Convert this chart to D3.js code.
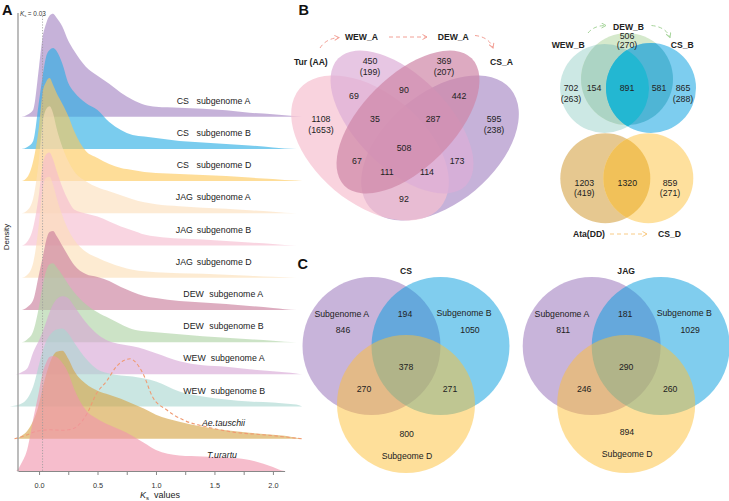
<!DOCTYPE html>
<html><head><meta charset="utf-8">
<script src="https://cdn.jsdelivr.net/npm/d3@7"></script>
<style>
html,body{margin:0;padding:0;background:#fff;}
svg{display:block;font-family:"Liberation Sans",Arial,Helvetica,sans-serif;}
</style></head><body>
<svg id="chart" width="729" height="501"></svg>
<script>
// ================= DATA =================
// Panel A : Ks density ridges (density at these Ks values)
const ksGrid = [-0.25,-0.2,-0.15,-0.1,-0.05,0,0.03,0.06,0.09,0.12,0.15,0.2,0.25,0.3,0.4,0.5,0.6,0.7,0.8,0.9,1.0,1.2,1.4,1.6,1.8,2.0,2.1,2.2,2.25];
const ridgeGroups = ["CS","CS","CS","JAG","JAG","JAG","DEW","DEW","WEW","WEW","Ae.tauschii","T.urartu"];
const ridgeSubs   = ["subgenome A","subgenome B","subgenome D","subgenome A","subgenome B","subgenome D","subgenome A","subgenome B","subgenome A","subgenome B","",""];
const csA  = [0,0,0,0.02,0.07,0.50,0.79,0.93,1.01,1.03,0.99,0.90,0.76,0.66,0.50,0.41,0.33,0.24,0.17,0.12,0.10,0.09,0.08,0.065,0.04,0.025,0.015,0.005,0];
const csB  = [0,0,0,0.02,0.08,0.48,0.72,0.92,0.99,1.01,0.98,0.85,0.66,0.57,0.46,0.39,0.27,0.19,0.14,0.125,0.11,0.08,0.065,0.05,0.035,0.015,0.005,0,0];
const csD  = [0,0,0,0.04,0.20,0.55,0.88,0.99,1.03,0.96,0.88,0.77,0.65,0.50,0.30,0.23,0.17,0.13,0.11,0.09,0.08,0.07,0.06,0.05,0.035,0.02,0.012,0.005,0];
const jagA = [0,0,0,0.03,0.15,0.55,0.90,1.04,1.07,1.00,0.85,0.66,0.52,0.42,0.32,0.26,0.22,0.18,0.14,0.11,0.09,0.07,0.055,0.045,0.03,0.015,0.005,0,0];
const jagB = [0,0,0,0.04,0.18,0.52,0.80,0.91,0.93,0.86,0.75,0.58,0.45,0.36,0.32,0.29,0.24,0.19,0.15,0.11,0.09,0.07,0.06,0.045,0.03,0.015,0.005,0,0];
const jagD = [0,0,0,0.03,0.15,0.55,0.88,1.00,1.01,0.93,0.80,0.62,0.48,0.38,0.26,0.20,0.15,0.11,0.08,0.065,0.055,0.045,0.04,0.03,0.02,0.01,0.005,0,0];
const dewA = [0,0,0,0.03,0.10,0.36,0.52,0.69,0.78,0.79,0.74,0.64,0.54,0.45,0.36,0.33,0.29,0.23,0.18,0.14,0.12,0.09,0.075,0.06,0.04,0.02,0.008,0,0];
const dewB = [0,0,0,0.03,0.11,0.36,0.56,0.71,0.78,0.79,0.75,0.67,0.58,0.50,0.38,0.30,0.24,0.18,0.13,0.11,0.10,0.08,0.06,0.045,0.03,0.015,0.005,0,0];
const wewA = [0,0,0.02,0.06,0.22,0.34,0.42,0.52,0.62,0.70,0.75,0.78,0.76,0.68,0.52,0.40,0.33,0.30,0.28,0.25,0.21,0.13,0.09,0.075,0.05,0.03,0.02,0.008,0];
const wewB = [0,0.01,0.03,0.08,0.20,0.42,0.55,0.65,0.71,0.75,0.77,0.78,0.73,0.64,0.48,0.37,0.33,0.31,0.30,0.28,0.25,0.15,0.10,0.07,0.05,0.04,0.03,0.02,0];
const aeTau = [0,0,0.03,0.08,0.18,0.35,0.50,0.64,0.75,0.83,0.87,0.88,0.80,0.68,0.55,0.48,0.44,0.40,0.35,0.30,0.24,0.17,0.12,0.085,0.06,0.04,0.03,0.01,0];
const tUra = [0,0,0.08,0.22,0.52,0.80,0.98,1.08,1.14,1.15,1.14,1.08,0.98,0.82,0.61,0.52,0.46,0.41,0.35,0.28,0.21,0.155,0.145,0.135,0.11,0.04,0,0,0];
const ridgeSeries = [csA,csB,csD,jagA,jagB,jagD,dewA,dewB,wewA,wewB,aeTau,tUra];
// second (dashed) Ae.tauschii distribution
const aeDashKs  = [-0.21,-0.15,-0.1,-0.05,0,0.1,0.2,0.25,0.32,0.41,0.49,0.58,0.66,0.72,0.78,0.83,0.89,0.97,1.09,1.23,1.43,1.66,1.95,2.25];
const aeDashDen = [0,0.02,0.04,0.065,0.08,0.09,0.085,0.09,0.12,0.25,0.45,0.58,0.72,0.78,0.80,0.76,0.65,0.42,0.29,0.19,0.12,0.067,0.037,0];
const ksMarker = 0.03;
const xTicks = [0,0.25,0.5,0.75,1.0,1.25,1.5,1.75,2.0];

// Panel B : 4-set Venn (A genomes)
const vennA4Sets = ["Tur (AA)","WEW_A","DEW_A","CS_A"];
const vennA4Counts = ["1108","450","369","595","69","90","442","35","287","508","67","173","111","114","92"];
const vennA4Extra  = ["(1653)","(199)","(207)","(238)"];
// Panel B : 3-set Venn (B genomes)
const vennB3Sets = ["WEW_B","DEW_B","CS_B"];
const vennB3Counts = ["702","506","865","154","891","581"];
const vennB3Extra  = ["(263)","(270)","(288)"];
// Panel B : 2-set Venn (D genomes)
const vennD2Sets = ["Ata(DD)","CS_D"];
const vennD2Counts = ["1203","1320","859"];
const vennD2Extra  = ["(419)","(271)"];
// Panel C : subgenome Venns
const vennCTitles = ["CS","JAG"];
const vennCSets = ["Subgenome A","Subgenome B","Subgeome D"];
const vennCCounts = [ // A only, AB, B only, ABD, AD, BD, D only
  ["846","194","1050","378","270","271","800"],
  ["811","181","1029","290","246","260","894"]
];

// ================= STYLES / LAYOUT =================
const ridgeColors = ["#a382c1","#28ace3","#fdc858","#fcdfbb","#f5bbcf","#fcdfb7","#c87a99","#acd2a3","#d7a7d5","#aad7d0","#d5a343","#f094ac"];
const txt = "#222";
const svg = d3.select("#chart");
const defs = svg.append("defs");

// ================= PANEL A =================
const gA = svg.append("g");
const x = d3.scaleLinear().domain([-0.18, 2.1]).range([18, 284.6]);
const yBase = d3.scalePoint().domain(d3.range(ridgeSeries.length)).range([116.7, 471]);
const h = d3.scaleLinear().domain([0, 1]).range([0, 100]);

ridgeSeries.forEach((vals, i) => {
  const b = yBase(i);
  const area = d3.area()
    .x((d, j) => x(ksGrid[j])).y0(b).y1(d => b - h(d))
    .curve(d3.curveMonotoneX);
  gA.append("path").datum(vals).attr("d", area)
    .attr("fill", ridgeColors[i]).attr("fill-opacity", 0.62);
  if (i === 10) {
    const line = d3.line().x((d, j) => x(aeDashKs[j])).y(d => b - h(d)).curve(d3.curveMonotoneX);
    gA.append("path").datum(aeDashDen).attr("d", line)
      .attr("fill", "none").attr("stroke", "#f09a72").attr("stroke-width", 1.1)
      .attr("stroke-dasharray", "3.5,2.5");
  }
});

// Ks = 0.03 reference line
gA.append("line").attr("x1", x(ksMarker)).attr("x2", x(ksMarker)).attr("y1", 16).attr("y2", 471)
  .attr("stroke", "#999").attr("stroke-width", 0.8).attr("stroke-dasharray", "1.2,1.6");
const km = gA.append("text").attr("x", 20).attr("y", 15.5).attr("font-size", 6.4).attr("fill", "#333");
km.append("tspan").attr("font-style", "italic").text("K");
km.append("tspan").attr("font-size", 4.2).attr("dy", 1.2).text("s");
km.append("tspan").attr("dy", -1.2).attr("dx", 1.5).text("= " + ksMarker.toFixed(2));

// ridge labels
const grpX = {CS: 176.7, JAG: 175.8, DEW: 183.3, WEW: 183.3};
const subX = {CS: 196.5, JAG: 196.8, DEW: 209.3, WEW: 210.8};
const italicX = {"Ae.tauschii": 202, "T.urartu": 207};
ridgeGroups.forEach((g, i) => {
  const yb = yBase(i) - 13;
  if (ridgeSubs[i]) {
    gA.append("text").attr("x", grpX[g]).attr("y", yb).attr("font-size", 8.8).attr("fill", txt).text(g);
    gA.append("text").attr("x", subX[g]).attr("y", yb).attr("font-size", 8.8).attr("fill", txt).text(ridgeSubs[i]);
  } else {
    gA.append("text").attr("x", italicX[g]).attr("y", yb).attr("font-size", 8.8)
      .attr("font-style", "italic").attr("fill", txt).text(g);
  }
});

// axes
const xAxis = d3.axisBottom(x).tickValues(xTicks)
  .tickFormat(d => (Math.round(d * 100) % 50 === 0) ? d.toFixed(1) : "")
  .tickSize(4).tickSizeOuter(0);
const ax = gA.append("g").attr("transform", "translate(0,471)").call(xAxis);
ax.select(".domain").attr("stroke", "#888").attr("stroke-width", 1.2);
ax.selectAll(".tick line").attr("stroke", "#888");
ax.selectAll(".tick text").attr("y", 11.5).attr("font-size", 7.3).attr("fill", "#333")
  .attr("font-family", '"Liberation Sans", Arial, sans-serif');
gA.append("line").attr("x1", 18).attr("x2", 18).attr("y1", 13).attr("y2", 471.6)
  .attr("stroke", "#999").attr("stroke-width", 1.3);
const xl = gA.append("text").attr("x", 140).attr("y", 498).attr("font-size", 9).attr("fill", txt);
xl.append("tspan").attr("font-style", "italic").text("K");
xl.append("tspan").attr("font-size", 6).attr("dy", 2).text("s");
xl.append("tspan").attr("dy", -2).attr("dx", 5).text("values");
gA.append("text").attr("transform", "translate(8.5,237) rotate(-90)").attr("text-anchor", "middle")
  .attr("font-size", 8).attr("fill", txt).text("Density");

// panel letters
[["A", 2, 15], ["B", 298.5, 14.5], ["C", 297.5, 268.5]].forEach(([t, px, py]) =>
  svg.append("text").attr("x", px).attr("y", py).attr("font-size", 14.5).attr("font-weight", "bold")
    .attr("fill", "#111").text(t));

// helpers
function label(g, t, cx, cy, size, opts = {}) {
  return g.append("text").attr("x", cx).attr("y", cy + size * 0.35).attr("text-anchor", opts.anchor || "middle")
    .attr("font-size", size).attr("font-weight", opts.bold ? "bold" : null).attr("fill", txt).text(t);
}
function marker(id, color) {
  defs.append("marker").attr("id", id).attr("viewBox", "0 0 6 6").attr("refX", 5).attr("refY", 3)
    .attr("markerWidth", 6).attr("markerHeight", 6).attr("markerUnits", "userSpaceOnUse").attr("orient", "auto")
    .append("path").attr("d", "M0.5,0.5 L5,3 L0.5,5.5").attr("fill", "none").attr("stroke", color).attr("stroke-width", 1);
}
function arrow(g, d, color, id) {
  g.append("path").attr("d", d).attr("fill", "none").attr("stroke", color).attr("stroke-width", 1)
    .attr("stroke-dasharray", "4,3").attr("marker-end", `url(#${id})`);
}

// ================= PANEL B : 4 ellipses =================
const gB = svg.append("g");
const ellipses = [ // drawn order: CS_A, Tur, WEW_A, DEW_A
  {set: 3, cx: 440, cy: 148, rx: 92, ry: 55, rot: -40, fill: "#ae91c9"},
  {set: 0, cx: 370, cy: 148, rx: 92, ry: 55, rot: 40, fill: "#f6c0d0"},
  {set: 1, cx: 402, cy: 122, rx: 90, ry: 46, rot: 45, fill: "#ddaed7"},
  {set: 2, cx: 408, cy: 122, rx: 90, ry: 46, rot: -45, fill: "#cf86a6"}
];
gB.selectAll("ellipse.v4").data(ellipses).join("ellipse").attr("class", "v4")
  .attr("cx", d => d.cx).attr("cy", d => d.cy).attr("rx", d => d.rx).attr("ry", d => d.ry)
  .attr("transform", d => `rotate(${d.rot},${d.cx},${d.cy})`)
  .attr("fill", d => d.fill).attr("fill-opacity", 0.7);
const a4pos = [[321,119],[370,61],[444,61],[494,119],[354,96],[404,90],[459,96],[375,119],[433,119],[404,148],[357,161],[457,161],[387,172],[427,172],[404,199]];
vennA4Counts.forEach((c, i) => label(gB, c, a4pos[i][0], a4pos[i][1], 8.8));
vennA4Extra.forEach((c, i) => label(gB, c, a4pos[i][0], a4pos[i][1] + 11, 8.8));
const a4lab = [[294,62,"start"],[345,37,"start"],[437.7,37,"start"],[490,62,"start"]];
vennA4Sets.forEach((s, i) => label(gB, s, a4lab[i][0], a4lab[i][1], 8.6, {bold: true, anchor: a4lab[i][2]}));
marker("mA", "#f2a096");
arrow(gB, "M320,48 Q326,38.5 339,37.5", "#f2a096", "mA");
arrow(gB, "M389,37 L427,37", "#f2a096", "mA");
arrow(gB, "M475,35.5 Q489,37 493,48", "#f2a096", "mA");

// ================= PANEL B : 3 circles (B genomes) =================
const gB3 = svg.append("g");
const c3 = {wew: [604.5, 88.5, 44.5], dew: [627, 79, 46], cs: [651, 88, 45]};
Object.entries(c3).forEach(([k, c]) => {
  defs.append("clipPath").attr("id", "clip_" + k).append("circle").attr("cx", c[0]).attr("cy", c[1]).attr("r", c[2]);
});
function circ(g, c, fill) { return g.append("circle").attr("cx", c[0]).attr("cy", c[1]).attr("r", c[2]).attr("fill", fill); }
circ(gB3, c3.wew, "#cce8e4");
circ(gB3, c3.dew, "#d5e9cc");
circ(gB3, c3.cs, "#7dcdef");
circ(gB3.append("g").attr("clip-path", "url(#clip_wew)"), c3.dew, "#acd4c4");
circ(gB3.append("g").attr("clip-path", "url(#clip_dew)"), c3.cs, "#4fb5d5");
circ(gB3.append("g").attr("clip-path", "url(#clip_wew)"), c3.cs, "#23b7d2");
const b3pos = [[571,88],[627,36],[683,88],[594,88],[627,88],[659,88]];
vennB3Counts.forEach((c, i) => label(gB3, c, b3pos[i][0], b3pos[i][1], 8.8));
[[571,99],[627,44.5],[683,99]].forEach((p, i) => label(gB3, vennB3Extra[i], p[0], p[1], 8.8));
[[551.7,45],[613,26.7],[670.7,45]].forEach((p, i) => label(gB3, vennB3Sets[i], p[0], p[1], 8.6, {bold: true, anchor: "start"}));
marker("mB", "#a6d49a");
arrow(gB3, "M588,33 Q594,25.5 606,25.5", "#a6d49a", "mB");
arrow(gB3, "M651.5,25.5 Q666,27 670,37.5", "#a6d49a", "mB");

// ================= PANEL B : 2 circles (D genomes) =================
const gD = svg.append("g");
const c2 = {ata: [605.3, 178.3, 45], csd: [648.3, 178.3, 45]};
defs.append("clipPath").attr("id", "clip_ata").append("circle").attr("cx", c2.ata[0]).attr("cy", c2.ata[1]).attr("r", c2.ata[2]);
circ(gD, c2.ata, "#e6c890");
circ(gD, c2.csd, "#fee09d");
circ(gD.append("g").attr("clip-path", "url(#clip_ata)"), c2.csd, "#f1c159");
const d2pos = [[584.3,182.7],[627.3,182.7],[670,182.7]];
vennD2Counts.forEach((c, i) => label(gD, c, d2pos[i][0], d2pos[i][1], 8.8));
[[584.3,193],[670,193]].forEach((p, i) => label(gD, vennD2Extra[i], p[0], p[1], 8.8));
[[573,234],[658,234]].forEach((p, i) => label(gD, vennD2Sets[i], p[0], p[1], 8.6, {bold: true, anchor: "start"}));
marker("mD", "#f8cb86");
arrow(gD, "M610,234 L647,234", "#f8cb86", "mD");

// ================= PANEL C =================
const cColors = ["#9169b5", "#019bdd", "#fdbf35"];
const cCircles = [[371.5, 346], [440.5, 346], [406, 404]];
const cLab = [[343,330],[405,314],[470,330],[406,366.7],[364,389],[450,389],[406.7,433.7]];
const cSetPos = [[341.7,314],[464,312.7],[407,455.7]];
vennCTitles.forEach((title, k) => {
  const dx = k * 220.2;
  const g = svg.append("g");
  cCircles.forEach((c, i) => g.append("circle").attr("cx", c[0] + dx).attr("cy", c[1]).attr("r", 69)
    .attr("fill", cColors[i]).attr("fill-opacity", 0.5));
  label(g, title, 406 + dx, 270.7, 8.6, {bold: true});
  vennCCounts[k].forEach((c, i) => label(g, c, cLab[i][0] + dx, cLab[i][1] - (k && i === 6 ? 2 : 0), 8.7));
  vennCSets.forEach((s, i) => label(g, s, cSetPos[i][0] + dx, cSetPos[i][1] - (k && i === 2 ? 1.7 : 0), 8.7));
});
</script>
</body></html>
